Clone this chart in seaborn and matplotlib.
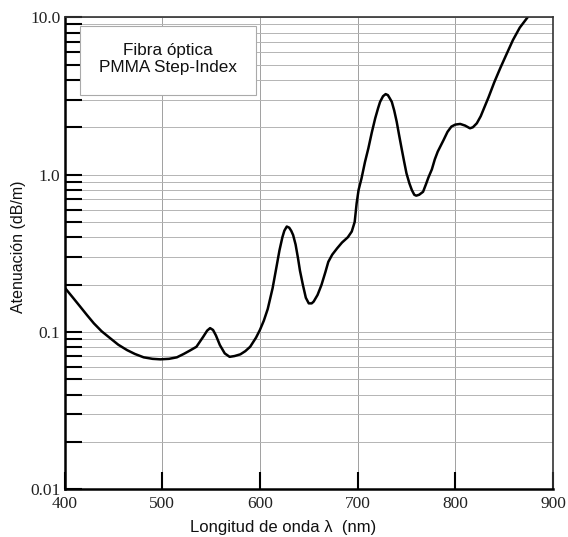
import numpy as np
import pandas as pd
import matplotlib
matplotlib.use("Agg")
import matplotlib.pyplot as plt
import seaborn as sns
from matplotlib.patches import Rectangle
from matplotlib.font_manager import FontProperties
from matplotlib.ticker import FixedLocator, FuncFormatter, LogLocator, NullFormatter

# ---- data ----
wavelength_nm = [400, 408, 416, 423, 430, 438, 447, 455, 464, 472, 481, 490, 498, 507, 515,
                 522, 528, 535, 542, 546, 549, 552, 555, 559, 564, 569, 574, 580, 585, 590,
                 596, 600, 604, 608, 613, 617, 620, 623, 625, 627.5, 630, 632, 634, 636.5, 639,
                 641, 644, 647, 650, 653, 655, 659, 663, 667, 670, 674, 679, 684, 690, 694,
                 697, 699, 701, 704, 707.5, 711, 714.5, 718, 721, 723, 726, 728.7, 731, 733, 735,
                 737.5, 740, 742.5, 745, 747.5, 750, 753, 755.5, 758, 760, 763, 767, 770, 772.5, 776,
                 779, 782, 788, 792, 796, 800, 805, 810, 815, 818, 822, 826, 830, 834, 840,
                 846, 852, 859, 866, 874]
attenuation_db_m = [0.192, 0.167, 0.145, 0.128, 0.1135, 0.101, 0.091, 0.083, 0.0767, 0.0725, 0.069, 0.0675, 0.067, 0.0675, 0.069,
                    0.0725, 0.076, 0.0805, 0.0933, 0.102, 0.1058, 0.103, 0.095, 0.0826, 0.0731, 0.0695, 0.0703, 0.0721, 0.0755, 0.0805,
                    0.092, 0.103, 0.118, 0.140, 0.19, 0.26, 0.33, 0.40, 0.44, 0.468, 0.46, 0.44, 0.413, 0.36, 0.294,
                    0.245, 0.199, 0.165, 0.152, 0.152, 0.156, 0.172, 0.199, 0.24, 0.279, 0.31, 0.34, 0.37, 0.40, 0.435,
                    0.50, 0.657, 0.80, 0.947, 1.2, 1.47, 1.85, 2.28, 2.65, 2.9, 3.15, 3.25, 3.2, 3.05, 2.9,
                    2.55, 2.17, 1.78, 1.47, 1.22, 1.02, 0.88, 0.798, 0.745, 0.735, 0.745, 0.778, 0.87, 0.96, 1.08,
                    1.25, 1.40, 1.66, 1.87, 2.02, 2.08, 2.10, 2.05, 1.97, 2.0, 2.12, 2.35, 2.7, 3.1, 3.88,
                    4.75, 5.75, 7.17, 8.6, 10.0]
x_ticks = [400, 500, 600, 700, 800, 900]
y_ticks = [0.01, 0.1, 1.0, 10.0]
y_tick_labels = ["0.01", "0.1", "1.0", "10.0"]
legend_lines = ["Fibra óptica", "PMMA Step-Index"]

df = pd.DataFrame({"wl": wavelength_nm, "att": attenuation_db_m})

sns.set_theme(style="white")
plt.rcParams["font.family"] = ["Liberation Sans", "DejaVu Sans"]

fig = plt.figure(figsize=(5.68, 5.37), dpi=100)
ax = fig.add_axes([0.1136, 0.0888, 0.8600, 0.8790])

sns.lineplot(data=df, x="wl", y="att", ax=ax, color="black", lw=1.8, sort=False)

ax.set_yscale("log")
ax.set_xlim(400, 900)
ax.set_ylim(0.01, 10.0)

ax.xaxis.set_major_locator(FixedLocator(x_ticks))
ax.yaxis.set_major_locator(FixedLocator(y_ticks))


def ylab(v, p):
    i = int(np.argmin([abs(np.log10(t) - np.log10(v)) for t in y_ticks]))
    return y_tick_labels[i]


ax.yaxis.set_major_formatter(FuncFormatter(ylab))
ax.yaxis.set_minor_locator(LogLocator(base=10, subs=np.arange(2, 10)))
ax.yaxis.set_minor_formatter(NullFormatter())

ax.grid(which="major", axis="x", color="#a0a0a0", lw=0.7)
ax.grid(which="both", axis="y", color="#b4b4b4", lw=0.7)
ax.set_axisbelow(True)

serif = FontProperties(family=["Liberation Serif", "DejaVu Serif"], size=12.5)
for lab in ax.get_xticklabels() + ax.get_yticklabels():
    lab.set_fontproperties(serif)
    lab.set_color("#222222")

ax.tick_params(axis="both", which="major", direction="in", length=12, width=1.5, color="black",
               bottom=True, left=True, top=False, right=False)
ax.tick_params(axis="y", which="minor", direction="in", length=12, width=1.5, color="black",
               left=True, right=False)
ax.tick_params(axis="x", which="major", pad=5)
ax.tick_params(axis="y", which="major", pad=3)

for side in ["left", "bottom"]:
    ax.spines[side].set_color("black")
    ax.spines[side].set_linewidth(1.8)
for side in ["top", "right"]:
    ax.spines[side].set_color("#333333")
    ax.spines[side].set_linewidth(1.2)

ax.set_xlabel("Longitud de onda λ  (nm)", fontsize=12, color="#111111")
ax.xaxis.set_label_coords(0.448, -0.064)
ax.set_ylabel("Atenuación (dB/m)", fontsize=11.5, color="#111111")
ax.yaxis.set_label_coords(-0.078, 0.513)

ax.add_patch(Rectangle((0.0317, 0.8354), 0.3603, 0.1462, transform=ax.transAxes,
                       fc="white", ec="#aaaaaa", lw=0.8, zorder=5))
ax.text(0.212, 0.9117, "\n".join(legend_lines), transform=ax.transAxes, ha="center", va="center",
        fontsize=12.3, color="#111111", linespacing=1.2, zorder=6)

fig.savefig("out.png", dpi=100)
